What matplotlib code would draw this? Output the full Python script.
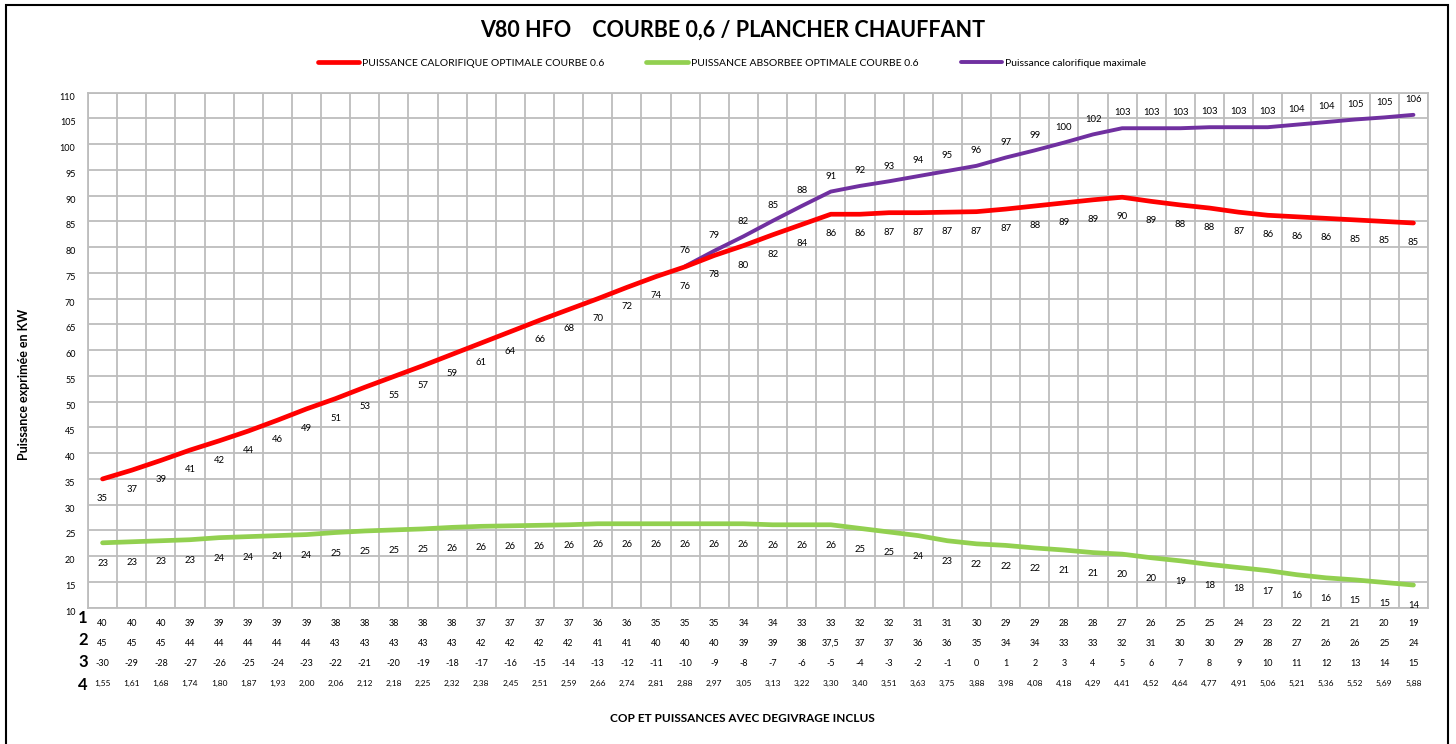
import matplotlib.pyplot as plt
import numpy as np

plt.rcParams['font.family'] = ['Lato', 'DejaVu Sans']

# temperatures exterieures (ligne 3 du tableau)
temperatures = list(range(-30, 16))

# courbes (kW)
calorifique_optimale = [35.0, 36.7, 38.6, 40.6, 42.4, 44.3, 46.4, 48.6, 50.6, 52.8, 54.9, 57.0,
                        59.2, 61.4, 63.6, 65.8, 67.9, 70.0, 72.2, 74.3, 76.2, 78.4, 80.3, 82.4,
                        84.4, 86.4, 86.4, 86.7, 86.7, 86.8, 86.9, 87.4, 88.0, 88.6, 89.2, 89.7,
                        88.9, 88.2, 87.6, 86.8, 86.2, 85.9, 85.6, 85.3, 85.0, 84.7]
absorbee_optimale = [22.6, 22.8, 23.0, 23.2, 23.6, 23.8, 24.0, 24.2, 24.6, 24.9, 25.1, 25.3,
                     25.6, 25.8, 25.9, 26.0, 26.1, 26.3, 26.3, 26.3, 26.3, 26.3, 26.3, 26.1,
                     26.1, 26.1, 25.4, 24.7, 24.0, 23.0, 22.4, 22.1, 21.6, 21.2, 20.7, 20.4,
                     19.7, 19.1, 18.4, 17.8, 17.2, 16.4, 15.8, 15.4, 14.9, 14.4]
calorifique_maxi = [np.nan] * 20 + [76.3, 79.3, 82.1, 85.1, 88.0, 90.8, 91.9, 92.8, 93.8, 94.8,
                                    95.8, 97.4, 98.8, 100.3, 101.9, 103.1, 103.1, 103.1, 103.3,
                                    103.3, 103.3, 103.8, 104.3, 104.8, 105.2, 105.7]

# lignes du tableau sous le graphique
ligne1 = ['40', '40', '40', '39', '39', '39', '39', '39', '38', '38', '38', '38', '38', '37',
          '37', '37', '37', '36', '36', '35', '35', '35', '34', '34', '33', '33', '32', '32',
          '31', '31', '30', '29', '29', '28', '28', '27', '26', '25', '25', '24', '23', '22',
          '21', '21', '20', '19']
ligne2 = ['45', '45', '45', '44', '44', '44', '44', '44', '43', '43', '43', '43', '43', '42',
          '42', '42', '42', '41', '41', '40', '40', '40', '39', '39', '38', '37,5', '37', '37',
          '36', '36', '35', '34', '34', '33', '33', '32', '31', '30', '30', '29', '28', '27',
          '26', '26', '25', '24']
cop = ['1,55', '1,61', '1,68', '1,74', '1,80', '1,87', '1,93', '2,00', '2,06', '2,12', '2,18',
       '2,25', '2,32', '2,38', '2,45', '2,51', '2,59', '2,66', '2,74', '2,81', '2,88', '2,97',
       '3,05', '3,13', '3,22', '3,30', '3,40', '3,51', '3,63', '3,75', '3,88', '3,98', '4,08',
       '4,18', '4,29', '4,41', '4,52', '4,64', '4,77', '4,91', '5,06', '5,21', '5,36', '5,52',
       '5,69', '5,88']

W, H = 1456, 744
fig = plt.figure(figsize=(W / 100, H / 100), dpi=100)

# zone de tracé en pixels
left, right, top, bottom = 88, 1428, 92.7, 607.7
ax = fig.add_axes([left / W, 1 - bottom / H, (right - left) / W, (bottom - top) / H])

x = np.arange(len(temperatures))
red, green, purple = '#FF0000', '#92D050', '#7030A0'

ax.plot(x, calorifique_optimale, color=red, lw=3.4, solid_capstyle='round',
        label='PUISSANCE CALORIFIQUE OPTIMALE COURBE 0.6', zorder=4)
ax.plot(x, absorbee_optimale, color=green, lw=3.4, solid_capstyle='round',
        label='PUISSANCE ABSORBEE OPTIMALE COURBE 0.6', zorder=4)
ax.plot(x, calorifique_maxi, color=purple, lw=2.8, solid_capstyle='round',
        label='Puissance calorifique maximale', zorder=3)

lab_kw = dict(textcoords='offset points', ha='center', va='center', fontsize=6.8, zorder=5)
for i in x:
    ax.annotate(f'{calorifique_optimale[i]:.0f}', (i, calorifique_optimale[i]),
                xytext=(0, -14), **lab_kw)
    ax.annotate(f'{absorbee_optimale[i]:.0f}', (i, absorbee_optimale[i]),
                xytext=(0, -15), **lab_kw)
    if not np.isnan(calorifique_maxi[i]):
        ax.annotate(f'{calorifique_maxi[i]:.0f}', (i, calorifique_maxi[i]),
                    xytext=(0, 11), **lab_kw)

ax.set_xlim(-0.5, len(x) - 0.5)
ax.set_ylim(10, 110)
ax.set_yticks(np.arange(10, 111, 5))
ax.set_xticks(np.arange(-0.5, len(x), 1))
ax.set_xticklabels([])
ax.tick_params(length=0, labelsize=6.5, pad=9)
for lbl in ax.get_yticklabels():
    lbl.set_verticalalignment('top')
ax.grid(True, color='#BDBDBD', lw=1.3)
for s in ax.spines.values():
    s.set_color('#BDBDBD')
    s.set_linewidth(1.3)

ax.set_ylabel('Puissance exprimée en KW', fontsize=9, fontweight='bold')
ax.yaxis.set_label_coords(-58 / (right - left), (bottom - 384) / (bottom - top))

# tableau sous le graphique
def fy(py):
    return 1 - py / H

rows = [(ligne1, 623, 6.5), (ligne2, 643, 6.5), ([str(t) for t in temperatures], 663, 6.5),
        (cop, 683, 6)]
col_w = (right - left) / len(x)
for vals, py, fs in rows:
    for i, v in enumerate(vals):
        fig.text((left + col_w * (i + 0.5)) / W, fy(py), v, ha='center', va='center',
                 fontsize=fs)
for k, py in zip(['1', '2', '3', '4'], [618, 640, 662, 685]):
    fig.text(83 / W, fy(py), k, ha='center', va='center', fontsize=12, fontweight='bold')

fig.text(742 / W, fy(718), 'COP ET PUISSANCES AVEC DEGIVRAGE INCLUS', ha='center',
         va='center', fontsize=8.5, fontweight='bold')
fig.text(733 / W, fy(30), 'V80 HFO    COURBE 0,6 / PLANCHER CHAUFFANT', ha='center',
         va='center', fontsize=15.5, fontweight='bold')

fig.legend(loc='center', bbox_to_anchor=(732 / W, fy(63)), ncol=3, frameon=False,
           fontsize=7.5, handlelength=4, handletextpad=0.3, columnspacing=4)

# cadre extérieur
fig.patches.append(plt.Rectangle((6 / W, -10 / H), 1442 / W, 749 / H, transform=fig.transFigure,
                                 fill=False, edgecolor='black', lw=1.5))

fig.savefig('out.png', dpi=100)
